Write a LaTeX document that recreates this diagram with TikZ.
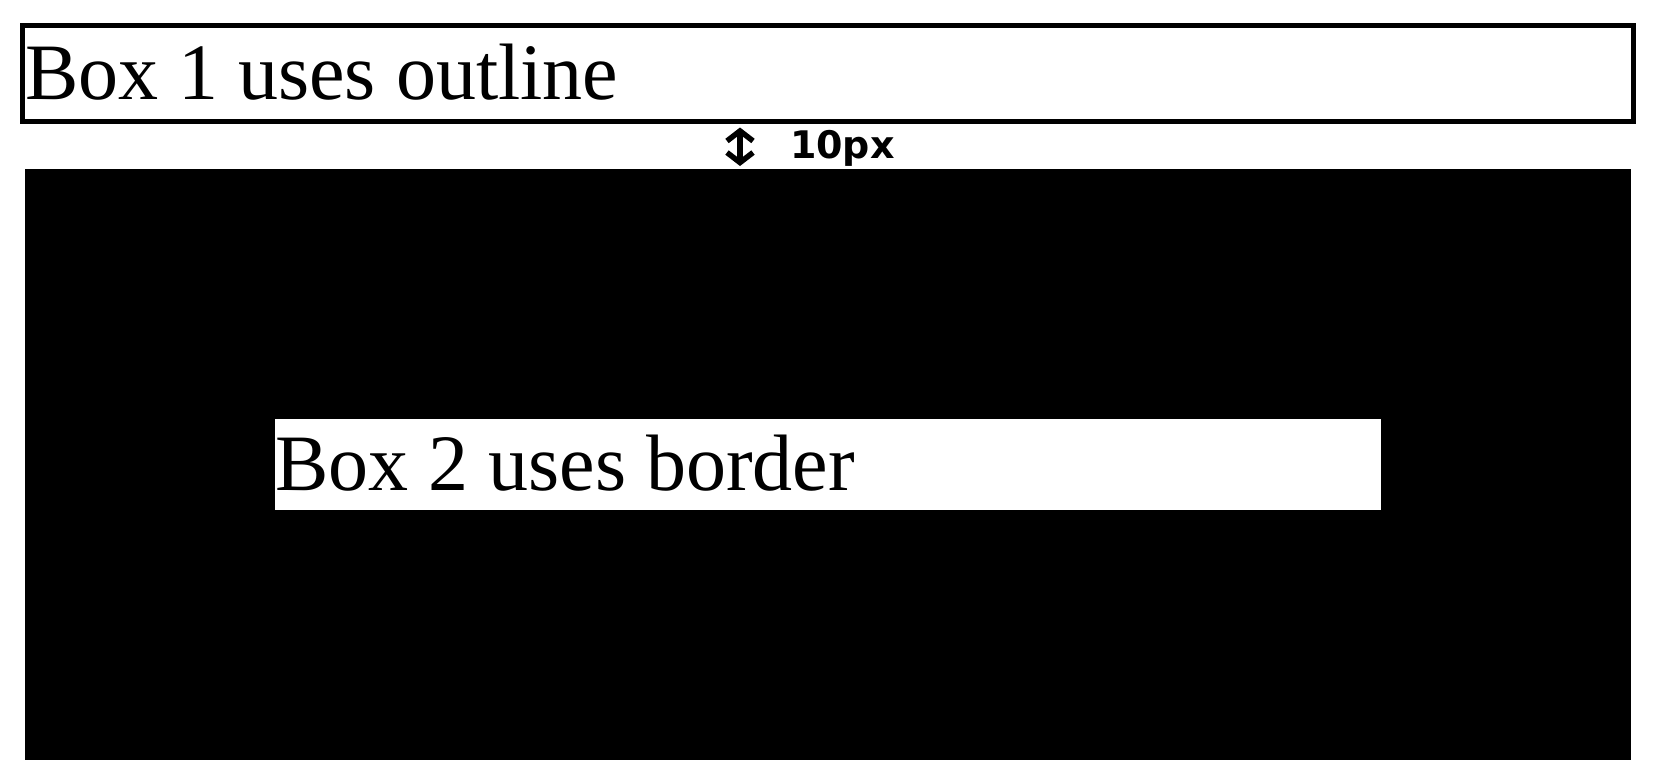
\documentclass[tikz,border=0pt]{standalone}
\usepackage{fontspec}
\setmainfont{Liberation Serif}
\newfontfamily\handfont{DejaVu Sans}
\usetikzlibrary{positioning,arrows.meta}

\begin{document}
\begin{tikzpicture}[x=1pt,y=-1pt]
	\tikzset{every node/.style={inner sep=0pt, outer sep=0pt}}
	\tikzset{boxtext/.style={font=\fontsize{80}{92}\selectfont, anchor=base west}}
	\tikzset{handarrow/.style={{Straight Barb[length=10pt,width=26pt]}-{Straight Barb[length=10pt,width=26pt]}, line width=5.5pt, line cap=round}}
	\useasboundingbox (0,0) rectangle (1658,780);
	% box 1: outline
	\node [draw, line width=5pt, minimum width=1611pt, minimum height=96pt, anchor=north west] (box1) at (22.5,25.5) {};
	\node [boxtext] (text1) at (25,99) {Box 1 uses outline};
	% box 2: border
	\node [fill=black, minimum width=1606pt, minimum height=591pt, anchor=north west] (box2) at (25,169) {};
	\node [fill=white, minimum width=1106pt, minimum height=91pt, anchor=north west] (content2) at (275,419) {};
	\node [boxtext] (text2) at (275,490) {Box 2 uses border};
	% gap note
	\coordinate (gapx) at (740,0);
	\draw [handarrow] ([yshift=-6pt]box1.south -| gapx) -- ([yshift=3pt]box2.north -| gapx);
	\node [font=\handfont\bfseries\fontsize{38}{44}\selectfont, anchor=base west] (gaplabel) at (790,158) {10px};
\end{tikzpicture}
\end{document}
